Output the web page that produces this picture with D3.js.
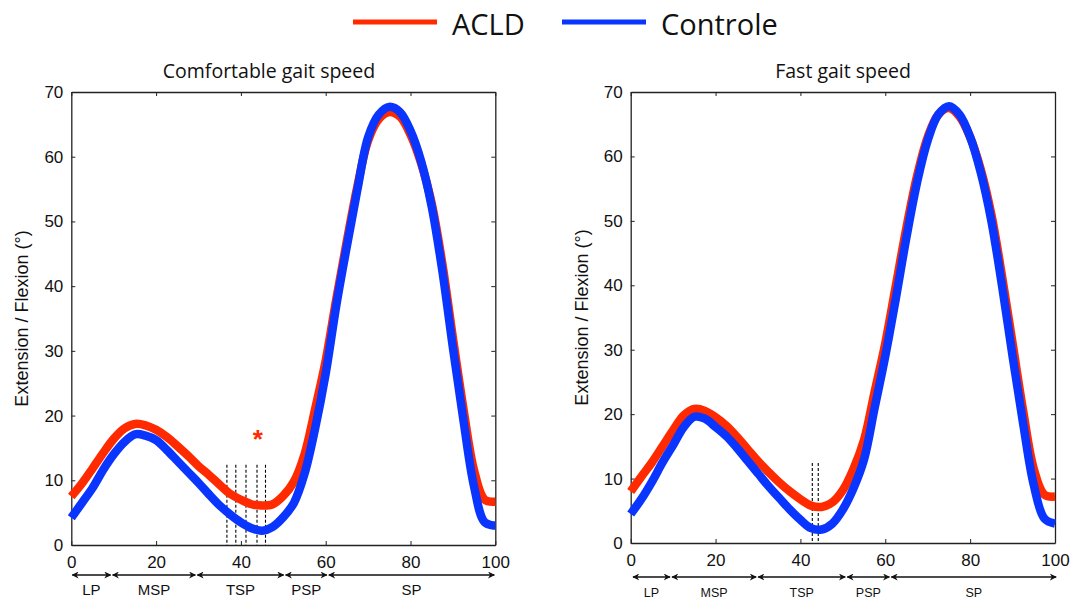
<!DOCTYPE html>
<html>
<head>
<meta charset="utf-8">
<script src="https://cdn.jsdelivr.net/npm/d3@7"></script>
<style>
  body { margin: 0; background: #fff; }
  svg { display: block; }
  text { font-family: "Liberation Sans", Arial, sans-serif; fill: #111; }
</style>
</head>
<body>
<div id="chart"></div>
<script>
// % of gait cycle
var pct = [0, 2.5, 5, 7.5, 10, 12.5, 15, 17.5, 20, 22.5, 25, 27.5, 30, 32.5, 35, 37.5, 40, 42.5, 45, 47.5,
           50, 52.5, 55, 57.5, 60, 62.5, 65, 67.5, 70, 72.5, 75, 77.5, 80, 82.5, 85, 87.5, 90, 92.5, 95, 97.5, 100];

// comfortable gait speed
var acldComfort = [7.5, 9.5, 11.8, 14.2, 16.4, 18.0, 18.7, 18.5, 17.8, 16.7, 15.3, 13.8, 12.2, 10.8, 9.3, 7.9, 7.0, 6.3, 6.1, 6.3,
                   7.6, 9.8, 14.0, 21.0, 28.5, 38.0, 47.0, 55.5, 62.5, 65.8, 66.9, 66.2, 63.4, 59.0, 52.8, 43.5, 32.0, 21.0, 11.5, 7.0, 6.7];
var controlComfort = [4.2, 6.5, 8.8, 11.6, 14.0, 15.9, 17.1, 16.9, 16.2, 14.7, 13.0, 11.3, 9.6, 7.8, 6.1, 4.7, 3.5, 2.6, 2.2, 2.8,
                      4.3, 6.5, 11.0, 18.0, 26.5, 37.0, 46.2, 55.0, 63.0, 66.5, 67.7, 66.9, 64.0, 59.3, 52.3, 42.4, 30.5, 19.2, 9.0, 3.5, 3.0];

// fast gait speed
var acldFast = [8.0, 10.3, 12.5, 15.0, 17.5, 19.8, 20.8, 20.5, 19.5, 18.2, 16.5, 14.6, 12.7, 11.0, 9.4, 8.0, 6.8, 5.8, 5.6, 6.3,
                8.2, 11.5, 16.0, 23.5, 31.0, 40.0, 49.0, 57.0, 63.0, 66.5, 67.5, 66.2, 63.0, 58.0, 51.0, 41.5, 31.0, 20.5, 11.5, 7.5, 7.2];
var controlFast = [4.5, 6.8, 9.5, 12.5, 15.2, 18.0, 19.6, 19.3, 18.0, 16.6, 14.8, 12.8, 10.8, 8.8, 7.0, 5.2, 3.6, 2.3, 2.1, 3.0,
                   5.2, 8.5, 13.0, 21.0, 29.0, 38.0, 47.5, 56.0, 62.5, 66.5, 67.8, 66.5, 63.0, 57.5, 50.0, 40.0, 29.0, 18.5, 9.0, 3.8, 3.0];

var xTicks = [0, 20, 40, 60, 80, 100];
var yTicks = [0, 10, 20, 30, 40, 50, 60, 70];

// gait phases
var phaseNames = ["LP", "MSP", "TSP", "PSP", "SP"];
var phaseBoundsComfort = [0, 9.5, 29.5, 50.3, 60.5, 100];
var phaseBoundsFast = [0.3, 9.5, 29.8, 50.8, 61.2, 100.5];

// significant difference markers (% of cycle) and their height
var marksComfort = [36.7, 38.8, 41.2, 43.8, 45.8];
var marksFast = [42.8, 44.2];
var marksTop = 12.4;
var starComfort = [44, 17.2];

var seriesNames = ["ACLD", "Controle"];
var colors = ["#ff2a00", "#0a35ff"];

var W = 1075, H = 600;
var svg = d3.select("#chart").append("svg").attr("width", W).attr("height", H);

var defs = svg.append("defs");
["arrowEnd", "arrowStart"].forEach(function(id, i) {
  defs.append("marker")
    .attr("id", id)
    .attr("viewBox", "0 0 10 10")
    .attr("refX", 9).attr("refY", 5)
    .attr("markerWidth", 7).attr("markerHeight", 7)
    .attr("markerUnits", "userSpaceOnUse")
    .attr("orient", i === 0 ? "auto" : "auto-start-reverse")
    .append("path")
      .attr("d", "M0,0 L10,5 L0,10 L3,5 Z")
      .attr("fill", "#111");
});

function drawPanel(opts) {
  var x = d3.scaleLinear().domain([0, 100]).range([opts.left, opts.right]);
  var y = d3.scaleLinear().domain([0, 70]).range([opts.bottom, opts.top]);
  var g = svg.append("g");

  // title
  g.append("text")
    .attr("x", opts.titleX)
    .attr("y", 78)
    .attr("text-anchor", "middle")
    .style("font-family", "'Open Sans', sans-serif")
    .style("font-size", "19.5px")
    .text(opts.title);

  // axes (box with inner ticks, matlab style)
  g.append("g")
    .attr("transform", "translate(0," + opts.bottom + ")")
    .call(d3.axisBottom(x).tickValues(xTicks).tickSizeInner(-4).tickSizeOuter(0).tickPadding(11))
    .call(function(a) { a.selectAll("text").style("font-size", "17px"); });
  g.append("g")
    .attr("transform", "translate(0," + opts.top + ")")
    .call(d3.axisTop(x).tickValues(xTicks).tickSizeInner(-4).tickSizeOuter(0).tickFormat(""));
  g.append("g")
    .attr("transform", "translate(" + opts.left + ",0)")
    .call(d3.axisLeft(y).tickValues(yTicks).tickSizeInner(-4).tickSizeOuter(0).tickPadding(8))
    .call(function(a) { a.selectAll("text").style("font-size", "17px"); });
  g.append("g")
    .attr("transform", "translate(" + opts.right + ",0)")
    .call(d3.axisRight(y).tickValues(yTicks).tickSizeInner(-4).tickSizeOuter(0).tickFormat(""));
  g.selectAll(".domain").attr("stroke", "#222").attr("stroke-width", 1.3);
  g.selectAll(".tick line").attr("stroke", "#222");
  g.selectAll(".tick text").attr("fill", "#111");

  // y label
  g.append("text")
    .attr("transform", "rotate(-90)")
    .attr("x", -(opts.top + opts.bottom) / 2)
    .attr("y", opts.left - 43)
    .attr("text-anchor", "middle")
    .style("font-size", "18px")
    .text("Extension / Flexion (°)");

  // dashed marks
  g.selectAll(".mark")
    .data(opts.marks)
    .enter().append("line")
      .attr("x1", function(d) { return x(d); })
      .attr("x2", function(d) { return x(d); })
      .attr("y1", y(marksTop))
      .attr("y2", y(0))
      .attr("stroke", "#000")
      .attr("stroke-width", 1.1)
      .attr("stroke-dasharray", "3,2");

  // curves
  var line = d3.line()
    .x(function(d) { return x(d[0]); })
    .y(function(d) { return y(d[1]); })
    .curve(d3.curveCatmullRom.alpha(0.5));
  opts.series.forEach(function(vals, i) {
    g.append("path")
      .datum(pct.map(function(p, k) { return [p, vals[k]]; }))
      .attr("fill", "none")
      .attr("stroke", colors[i])
      .attr("stroke-width", 8.5)
      .attr("d", line);
  });

  if (opts.star) {
    g.append("text")
      .attr("x", x(opts.star[0]))
      .attr("y", y(opts.star[1]) + 14)
      .attr("text-anchor", "middle")
      .style("font-size", "26px")
      .style("font-weight", "bold")
      .style("fill", colors[0])
      .text("*");
  }

  // phases
  var pg = g.append("g");
  for (var i = 0; i < phaseNames.length; i++) {
    var a = opts.phases[i], b = opts.phases[i + 1];
    pg.append("line")
      .attr("x1", x(a) + 1).attr("x2", x(b) - 1)
      .attr("y1", opts.arrowY).attr("y2", opts.arrowY)
      .attr("stroke", "#111")
      .attr("stroke-width", 1.4)
      .attr("marker-start", "url(#arrowStart)")
      .attr("marker-end", "url(#arrowEnd)");
    pg.append("text")
      .attr("x", x((a + b) / 2))
      .attr("y", opts.arrowY + 20)
      .attr("text-anchor", "middle")
      .style("font-size", opts.phaseFont)
      .text(phaseNames[i]);
  }
}

drawPanel({
  left: 71.3, right: 495.3, top: 92, bottom: 545,
  title: "Comfortable gait speed", titleX: 269,
  series: [acldComfort, controlComfort],
  marks: marksComfort, star: starComfort,
  phases: phaseBoundsComfort, arrowY: 575, phaseFont: "15px"
});
drawPanel({
  left: 630.7, right: 1055, top: 92, bottom: 543,
  title: "Fast gait speed", titleX: 843,
  series: [acldFast, controlFast],
  marks: marksFast, star: null,
  phases: phaseBoundsFast, arrowY: 577, phaseFont: "12.5px"
});

// legend
var legend = svg.append("g");
var legendX = [353, 562];
seriesNames.forEach(function(name, i) {
  legend.append("line")
    .attr("x1", legendX[i]).attr("x2", legendX[i] + 84)
    .attr("y1", 22).attr("y2", 22)
    .attr("stroke", colors[i])
    .attr("stroke-width", 5);
  legend.append("text")
    .attr("x", legendX[i] + 99)
    .attr("y", 35)
    .style("font-family", "'Open Sans', sans-serif")
    .style("font-size", "29px")
    .text(name);
});
</script>
</body>
</html>
